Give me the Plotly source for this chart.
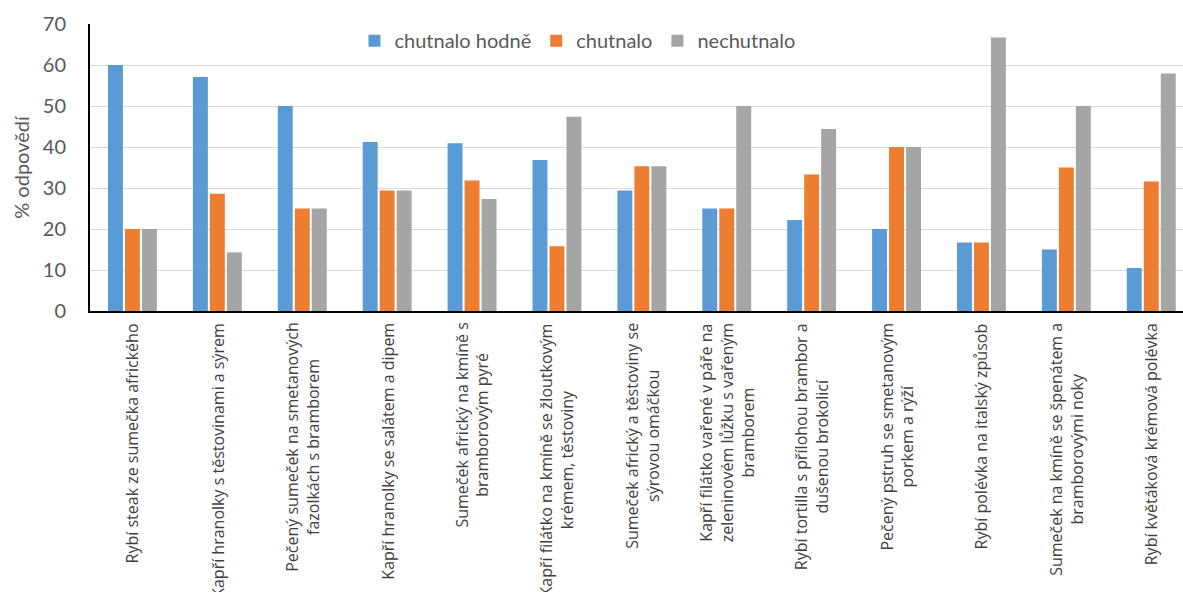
import plotly.graph_objects as go

# Dish names (x categories), line breaks as printed under the axis
dishes = [
    "Rybí steak ze sumečka afrického",
    "Kapří hranolky s těstovinami a sýrem",
    "Pečený sumeček na smetanových<br>fazolkách s bramborem",
    "Kapří hranolky se salátem a dipem",
    "Sumeček africký na kmíně s<br>bramborovým pyré",
    "Kapří filátko na kmíně se žloutkovým<br>krémem, těstoviny",
    "Sumeček africký a těstoviny se<br>sýrovou omáčkou",
    "Kapří filátko vařené v páře na<br>zeleninovém lůžku s vařeným<br>bramborem",
    "Rybí tortilla s přílohou brambor a<br>dušenou brokolicí",
    "Pečený pstruh se smetanovým<br>porkem a rýží",
    "Rybí polévka na italský způsob",
    "Sumeček na kmíně se špenátem a<br>bramborovými noky",
    "Rybí květáková krémová polévka",
]

# Share of answers in %
chutnalo_hodne = [60.0, 57.1, 50.0, 41.2, 40.9, 36.8, 29.4, 25.0, 22.2, 20.0, 16.7, 15.0, 10.5]
chutnalo = [20.0, 28.6, 25.0, 29.4, 31.8, 15.8, 35.3, 25.0, 33.3, 40.0, 16.7, 35.0, 31.6]
nechutnalo = [20.0, 14.3, 25.0, 29.4, 27.3, 47.4, 35.3, 50.0, 44.4, 40.0, 66.7, 50.0, 57.9]

series = [
    ("chutnalo hodně", chutnalo_hodne, "#5B9BD5"),
    ("chutnalo", chutnalo, "#ED7D31"),
    ("nechutnalo", nechutnalo, "#A5A5A5"),
]

y_ticks = [0, 10, 20, 30, 40, 50, 60, 70]

FONT = "Lato"
TEXT = "#595959"

positions = list(range(len(dishes)))

fig = go.Figure()
for name, values, color in series:
    fig.add_trace(go.Bar(
        x=positions,
        y=values,
        name=name,
        marker=dict(color=color, line=dict(width=0)),
    ))

# Category labels: rotated, with centred lines, hanging below the axis
for pos, label in zip(positions, dishes):
    fig.add_annotation(
        x=pos,
        xref="x",
        y=0,
        yref="paper",
        yanchor="top",
        xanchor="center",
        yshift=-10,
        text=label,
        textangle=-90,
        align="center",
        showarrow=False,
        font=dict(family="Open Sans", size=16, color="#404040"),
    )

fig.update_layout(
    width=1183,
    height=592,
    autosize=False,
    paper_bgcolor="white",
    plot_bgcolor="white",
    margin=dict(l=90, r=0, t=24, b=281),
    barmode="group",
    bargap=0.4,
    bargroupgap=0.12,
    font=dict(family=FONT, color=TEXT),
    legend=dict(
        orientation="h",
        x=0.446,
        xanchor="center",
        y=1.01,
        yanchor="top",
        bgcolor="white",
        font=dict(family=FONT, size=20, color=TEXT),
        itemclick=False,
    ),
    showlegend=True,
)

fig.update_xaxes(
    range=[-0.5, 12.374],
    tickmode="array",
    tickvals=positions,
    showticklabels=False,
    showline=True,
    linecolor="black",
    linewidth=2,
    showgrid=False,
    ticks="",
    zeroline=False,
)

fig.update_yaxes(
    range=[0, 70],
    tickmode="array",
    tickvals=y_ticks,
    ticktext=[str(v) for v in y_ticks],
    tickfont=dict(family=FONT, size=20, color=TEXT),
    ticklabelstandoff=18,
    showline=True,
    linecolor="black",
    linewidth=2,
    showgrid=True,
    gridcolor="#D9D9D9",
    gridwidth=1,
    zeroline=False,
    ticks="",
    title=dict(text="% odpovědí", font=dict(family=FONT, size=20, color=TEXT), standoff=8),
)

fig.write_html("out.html")
